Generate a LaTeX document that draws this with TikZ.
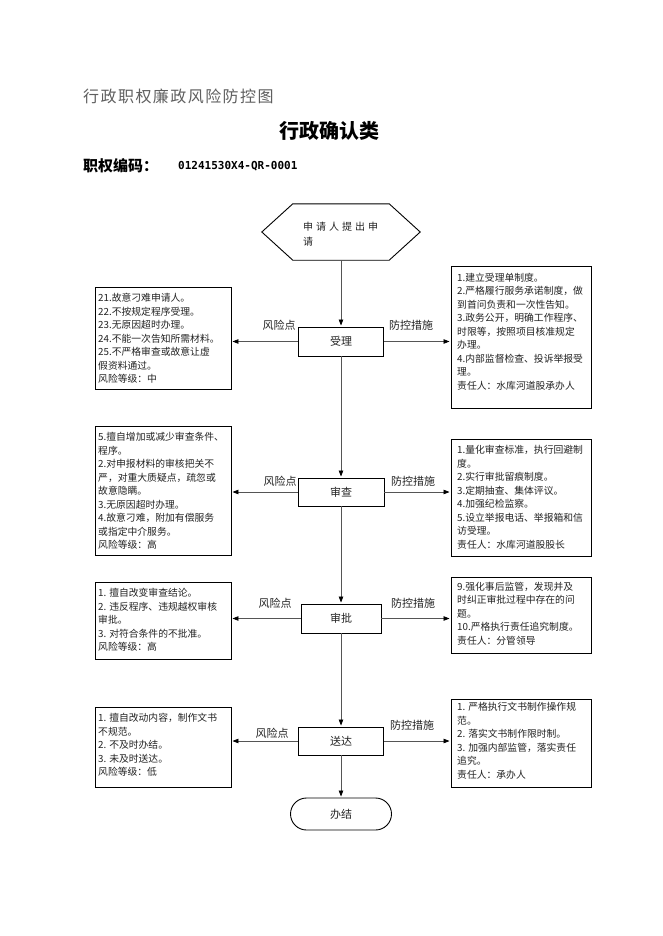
\documentclass[tikz,border=0pt]{standalone}
\usepackage{fontspec}
\setmainfont{Noto Sans CJK SC}
\newfontfamily\codefont{DejaVu Sans Mono}
\usetikzlibrary{arrows.meta}
\definecolor{linegray}{RGB}{85,85,85}
\definecolor{textgray}{RGB}{35,35,35}
\definecolor{titlegray}{RGB}{95,95,95}
\tikzset{%
  myedge/.style={draw=linegray, line width=0.8pt, -{Triangle[length=6pt,width=4.5pt,color=black]}, shorten >=1pt},
  stepnode/.style={rectangle, draw=black, line width=0.9pt, minimum height=29pt, inner sep=0pt, text=textgray, font=\fontsize{11}{13}\selectfont},
  riskbox/.style={rectangle, draw=black, line width=0.9pt, inner sep=0pt},
  boxtext/.style={anchor=north west, align=left, inner sep=0pt, text=textgray, font=\fontsize{9.8}{13.5}\selectfont},
  tagnode/.style={inner sep=0pt, text=textgray, font=\fontsize{11}{13}\selectfont}
}
\begin{document}
\begin{tikzpicture}[x=1pt,y=-1pt]
\fill[white] (0,0) rectangle (662,936);
\useasboundingbox (0,0) rectangle (662,936);

% titles
\node[anchor=west, inner sep=0pt, text=titlegray, font=\fontsize{16}{18}\selectfont\addfontfeature{LetterSpace=9}] (title) at (83,96) {行政职权廉政风险防控图};
\node[inner sep=0pt, font=\fontsize{20}{22}\selectfont\bfseries] (kind) at (329,131) {行政确认类};
\node[anchor=west, inner sep=0pt, font=\fontsize{15}{17}\selectfont\bfseries] (codelabel) at (83,166) {职权编码：};
\node[anchor=west, inner sep=0pt, font=\codefont\fontsize{11}{13}\selectfont\bfseries] (code) at (178,166) {01241530X4-QR-0001};

% start
\node[minimum width=158pt, minimum height=56pt, inner sep=0pt] (start) at (341,232) {};
\draw[line width=0.9pt] (start.west) -- ([xshift=31pt]start.north west) -- ([xshift=-31pt]start.north east)
  -- (start.east) -- ([xshift=-31pt]start.south east) -- ([xshift=31pt]start.south west) -- cycle;
\node[boxtext, font=\fontsize{10}{15}\selectfont\addfontfeature{LetterSpace=30}] (starttext) at (303,222) {申请人提出申\\请};

% steps
\node[stepnode, minimum width=85pt] (accept) at (341,341.5) {受理};
\node[stepnode, minimum width=86pt, minimum height=28pt] (review) at (341,492) {审查};
\node[stepnode, minimum width=80pt] (approve) at (341,618.5) {审批};
\node[stepnode, minimum width=85pt, minimum height=28pt] (deliver) at (341,741) {送达};
\node[stepnode, rounded corners=16pt, minimum width=101pt, minimum height=32pt] (finish) at (341,814) {办结};

% boxes
\foreach \name/\cx/\cy/\w/\h in {riskA/163/338/136/102, measureA/521/337/140/142,
    riskB/163/490.5/136/129, measureB/521/497.5/140/117,
    riskC/163/620.5/136/77, measureC/521/615/140/76,
    riskD/163/747/136/80, measureD/521/743/140/88} {
  \node[riskbox, minimum width=\w pt, minimum height=\h pt] (\name) at (\cx,\cy) {};
}

\node[boxtext] (riskAtext) at (98,293) {21.故意刁难申请人。\\22.不按规定程序受理。\\23.无原因超时办理。\\24.不能一次告知所需材料。\\25.不严格审查或故意让虚\\假资料通过。\\风险等级：中};
\node[boxtext] (measureAtext) at (457,273) {1.建立受理单制度。\\2.严格履行服务承诺制度，做\\到首问负责和一次性告知。\\3.政务公开，明确工作程序、\\时限等，按照项目核准规定\\办理。\\4.内部监督检查、投诉举报受\\理。\\责任人：水库河道股承办人};
\node[boxtext] (riskBtext) at (98,432) {5.擅自增加或减少审查条件、\\程序。\\2.对申报材料的审核把关不\\严，对重大质疑点，疏忽或\\故意隐瞒。\\3.无原因超时办理。\\4.故意刁难，附加有偿服务\\或指定中介服务。\\风险等级：高};
\node[boxtext] (measureBtext) at (457,445) {1.量化审查标准，执行回避制\\度。\\2.实行审批留痕制度。\\3.定期抽查、集体评议。\\4.加强纪检监察。\\5.设立举报电话、举报箱和信\\访受理。\\责任人：水库河道股股长};
\node[boxtext] (riskCtext) at (98,588) {1. 擅自改变审查结论。\\2. 违反程序、违规越权审核\\审批。\\3. 对符合条件的不批准。\\风险等级：高};
\node[boxtext] (measureCtext) at (457,582) {9.强化事后监管，发现并及\\时纠正审批过程中存在的问\\题。\\10.严格执行责任追究制度。\\责任人：分管领导};
\node[boxtext] (riskDtext) at (98,713) {1. 擅自改动内容，制作文书\\不规范。\\2. 不及时办结。\\3. 未及时送达。\\风险等级：低};
\node[boxtext] (measureDtext) at (457,702) {1. 严格执行文书制作操作规\\范。\\2. 落实文书制作限时制。\\3. 加强内部监管，落实责任\\追究。\\责任人：承办人};

% flow
\draw[myedge] (start) -- (accept);
\draw[myedge] (accept) -- (review);
\draw[myedge] (review) -- (approve);
\draw[myedge] (approve) -- (deliver);
\draw[myedge] (deliver) -- (finish);

% risk and measure arrows
\foreach \s/\r/\m in {accept/riskA/measureA, review/riskB/measureB, approve/riskC/measureC, deliver/riskD/measureD} {
  \draw[myedge] (\s.west) -- (\s.west -| \r.east);
  \draw[myedge] (\s.east) -- (\s.east -| \m.west);
}

\foreach \x/\y/\t [count=\i] in {279/325/风险点, 411/325/防控措施, 280/481/风险点, 413/481/防控措施,
    275/603/风险点, 413/603/防控措施, 272/733/风险点, 412/725/防控措施} {
  \node[tagnode] (tag\i) at (\x,\y) {\t};
}

\end{tikzpicture}
\end{document}
